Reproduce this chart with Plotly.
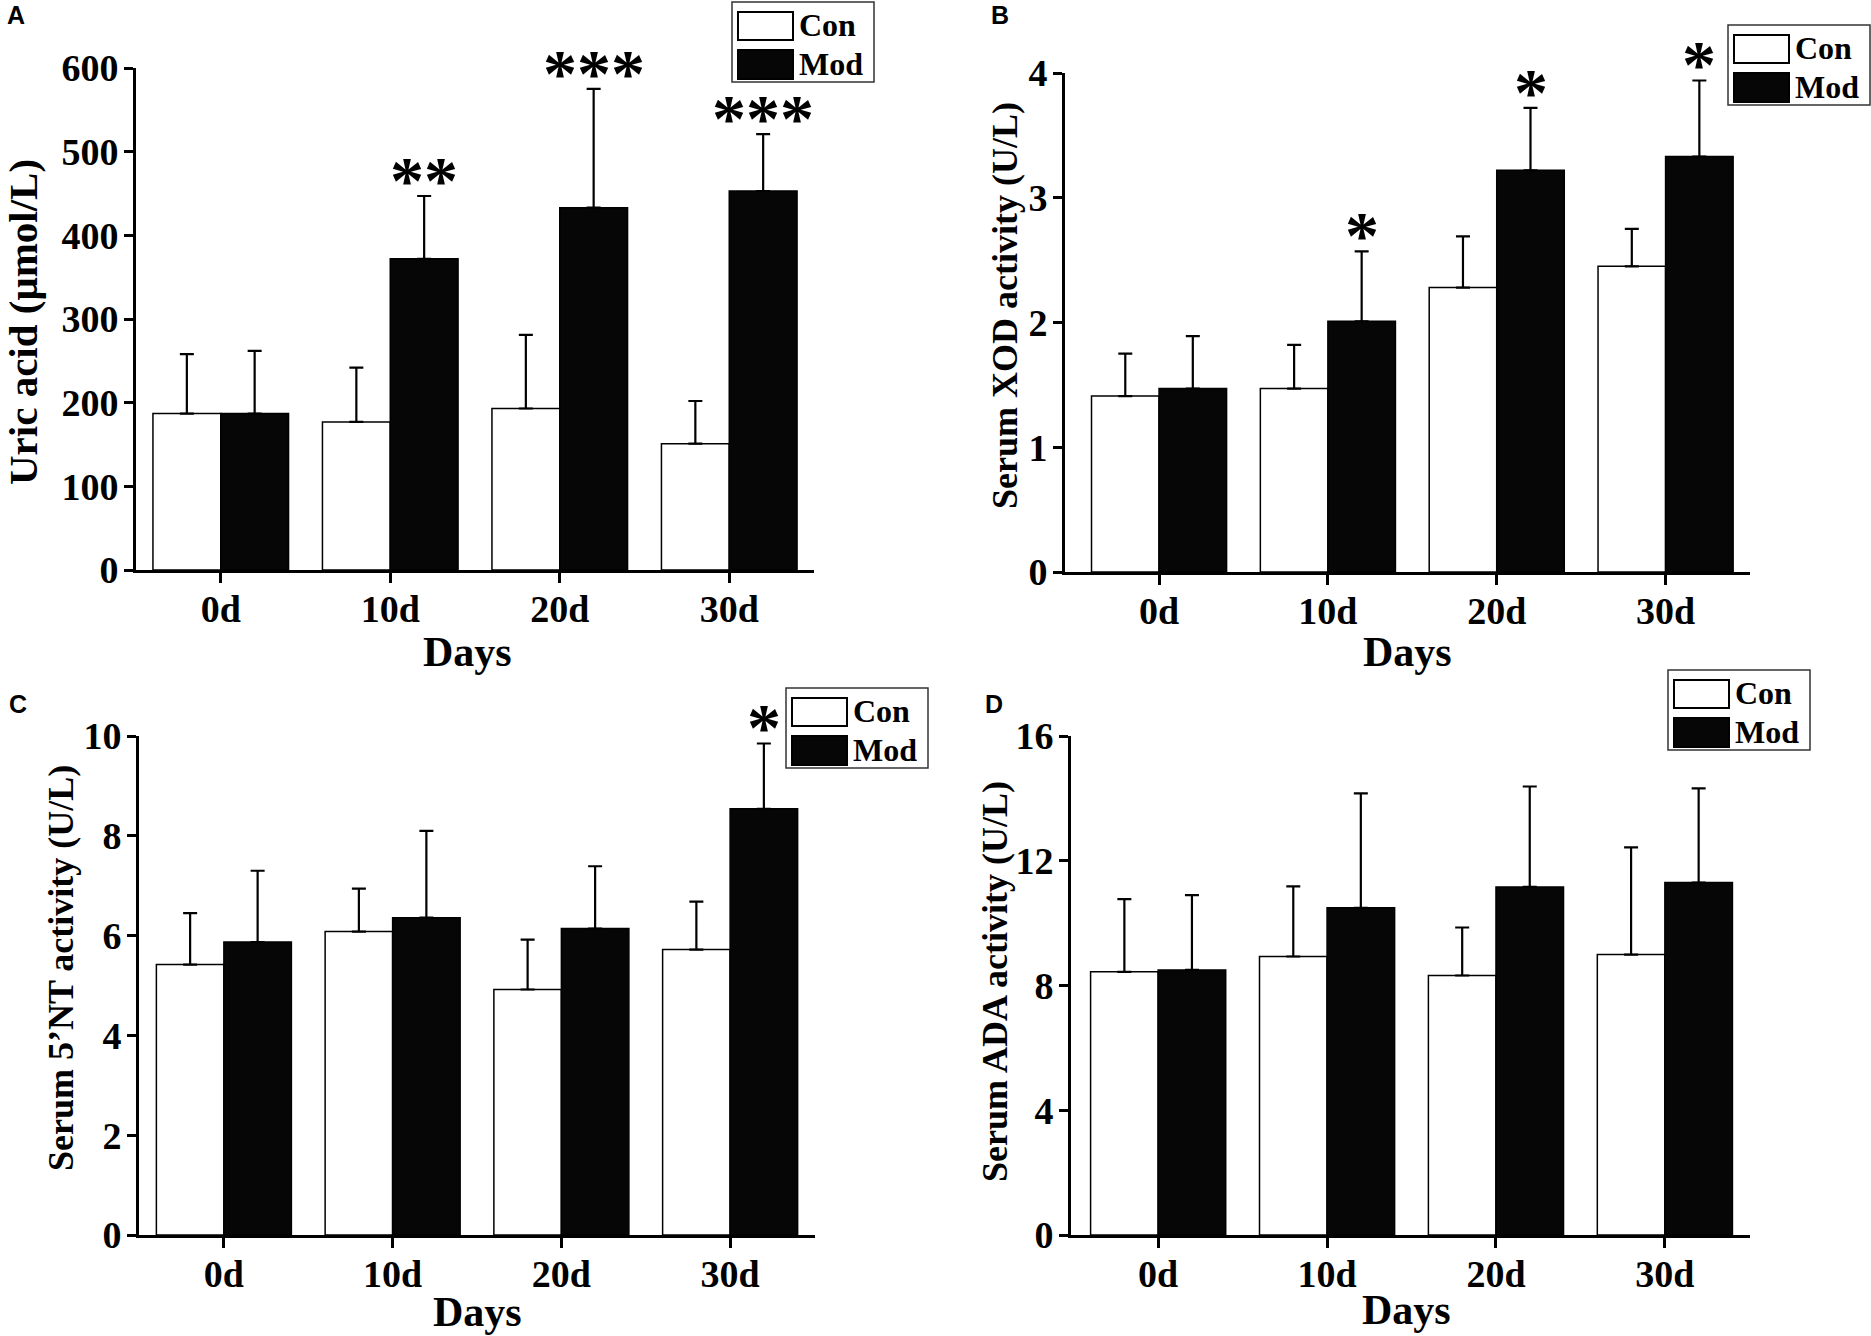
import plotly.graph_objects as go

W, H = 1871, 1336

days = ["0d", "10d", "20d", "30d"]
groups = ["Con", "Mod"]

# Panel A: Uric acid (umol/L)
a_con = [187, 177, 193, 151]
a_con_sd = [71, 65, 88, 51]
a_mod = [187, 372, 433, 453]
a_mod_sd = [75, 75, 142, 68]
a_sig = ["", "**", "***", "***"]

# Panel B: Serum XOD activity (U/L)
b_con = [1.41, 1.47, 2.28, 2.45]
b_con_sd = [0.34, 0.35, 0.41, 0.30]
b_mod = [1.47, 2.01, 3.22, 3.33]
b_mod_sd = [0.42, 0.56, 0.50, 0.61]
b_sig = ["", "*", "*", "*"]

# Panel C: Serum 5'NT activity (U/L)
c_con = [5.42, 6.08, 4.92, 5.72]
c_con_sd = [1.03, 0.86, 1.00, 0.96]
c_mod = [5.87, 6.36, 6.14, 8.54]
c_mod_sd = [1.43, 1.74, 1.25, 1.31]
c_sig = ["", "", "", "*"]

# Panel D: Serum ADA activity (U/L)
d_con = [8.44, 8.93, 8.32, 8.99]
d_con_sd = [2.33, 2.25, 1.54, 3.44]
d_mod = [8.50, 10.49, 11.16, 11.30]
d_mod_sd = [2.40, 3.67, 3.22, 3.02]
d_sig = ["", "", "", ""]

y_titles = ["Uric acid (μmol/L)", "Serum XOD activity (U/L)",
            "Serum 5’NT activity (U/L)", "Serum ADA activity (U/L)"]
panel_letters = ["A", "B", "C", "D"]
x_title = "Days"

SERIF = "Liberation Serif"
SANS = "Liberation Sans"


def px(x):
    return x / W


def py(y):
    return 1 - y / H


# layout geometry in pixels: (x0, x1, ytop, ybottom)
panels = [
    dict(box=(136, 814, 68, 570), xr=[-0.5, 3.5], yr=[0, 600], dtick=100,
         con=a_con, con_sd=a_con_sd, mod=a_mod, mod_sd=a_mod_sd, sig=a_sig,
         ytitle=(23, 322, 41), xtitle=(468, 652), letter=(16, 15),
         legend=(732, 2)),
    dict(box=(1065, 1750, 73, 572), xr=[-0.557, 3.5], yr=[0, 4], dtick=1,
         con=b_con, con_sd=b_con_sd, mod=b_mod, mod_sd=b_mod_sd, sig=b_sig,
         ytitle=(1005, 306, 36), xtitle=(1407, 652), letter=(1000, 15),
         legend=(1728, 25)),
    dict(box=(139, 815, 736, 1235), xr=[-0.503, 3.503], yr=[0, 10], dtick=2,
         con=c_con, con_sd=c_con_sd, mod=c_mod, mod_sd=c_mod_sd, sig=c_sig,
         ytitle=(61, 968, 36), xtitle=(477, 1312), letter=(18, 704),
         legend=(786, 688)),
    dict(box=(1071, 1750, 736, 1235), xr=[-0.516, 3.504], yr=[0, 16], dtick=4,
         con=d_con, con_sd=d_con_sd, mod=d_mod, mod_sd=d_mod_sd, sig=d_sig,
         ytitle=(995, 982, 36), xtitle=(1406, 1310), letter=(994, 704),
         legend=(1668, 670)),
]

fig = go.Figure()
annotations = []
shapes = []

for i, p in enumerate(panels):
    n = "" if i == 0 else str(i + 1)
    xa, ya = "x" + n, "y" + n
    x0, x1, yt, yb = p["box"]
    fig.add_trace(go.Bar(
        x=days, y=p["con"], name=groups[0], xaxis=xa, yaxis=ya,
        marker=dict(color="white", line=dict(color="black", width=1.5)),
        error_y=dict(type="data", array=p["con_sd"], arrayminus=[0] * 4,
                     symmetric=False, color="black", thickness=2.2, width=7),
        showlegend=False, offsetgroup="con"))
    fig.add_trace(go.Bar(
        x=days, y=p["mod"], name=groups[1], xaxis=xa, yaxis=ya,
        marker=dict(color="#060606", line=dict(color="black", width=1.5)),
        error_y=dict(type="data", array=p["mod_sd"], arrayminus=[0] * 4,
                     symmetric=False, color="black", thickness=2.2, width=7),
        showlegend=False, offsetgroup="mod"))

    axis_common = dict(showline=True, linecolor="black", linewidth=2.6,
                       ticks="outside", tickcolor="black", tickwidth=2.6,
                       showgrid=False, zeroline=False, automargin=False,
                       tickfont=dict(family=SERIF, size=38, color="black",
                                     weight="bold"))
    fig.layout["xaxis" + n] = dict(
        axis_common, domain=[px(x0), px(x1)], anchor=ya, range=p["xr"],
        ticklen=10, ticklabelstandoff=-6, type="category",
        categoryorder="array", categoryarray=days)
    fig.layout["yaxis" + n] = dict(
        axis_common, domain=[py(yb), py(yt)], anchor=xa, range=p["yr"],
        dtick=p["dtick"], tick0=0, ticklen=9, ticklabelstandoff=-2)

    # significance stars above Mod error bars
    for j, s in enumerate(p["sig"]):
        if s:
            annotations.append(dict(
                x=j + 0.2, y=p["mod"][j] + p["mod_sd"][j], xref=xa, yref=ya,
                text=s, showarrow=False, xanchor="center", yanchor="bottom",
                yshift=-24,
                font=dict(family=SERIF, size=68, color="black", weight="bold")))

    # axis titles
    tx, ty, tfs = p["ytitle"]
    annotations.append(dict(x=px(tx), y=py(ty), xref="paper", yref="paper",
                            xanchor="center", yanchor="middle",
                            text=y_titles[i], textangle=-90, showarrow=False,
                            font=dict(family=SERIF, size=tfs, color="black",
                                      weight="bold")))
    dx, dy = p["xtitle"]
    annotations.append(dict(x=px(dx), y=py(dy), xref="paper", yref="paper",
                            xanchor="center", yanchor="middle",
                            text=x_title, showarrow=False,
                            font=dict(family=SERIF, size=42, color="black",
                                      weight="bold")))
    lx, ly = p["letter"]
    annotations.append(dict(x=px(lx), y=py(ly), xref="paper", yref="paper",
                            xanchor="center", yanchor="middle",
                            text=panel_letters[i], showarrow=False,
                            font=dict(family=SANS, size=25, color="black",
                                      weight="bold")))

    # legend box
    bx, by = p["legend"]
    shapes.append(dict(type="rect", xref="paper", yref="paper",
                       x0=px(bx), x1=px(bx + 142), y0=py(by), y1=py(by + 80),
                       line=dict(color="#333333", width=1.5),
                       fillcolor="white"))
    shapes.append(dict(type="rect", xref="paper", yref="paper",
                       x0=px(bx + 6), x1=px(bx + 61), y0=py(by + 10),
                       y1=py(by + 38), line=dict(color="black", width=2),
                       fillcolor="white"))
    shapes.append(dict(type="rect", xref="paper", yref="paper",
                       x0=px(bx + 6), x1=px(bx + 61), y0=py(by + 48),
                       y1=py(by + 77), line=dict(color="black", width=2),
                       fillcolor="#060606"))
    for k, g in enumerate(groups):
        annotations.append(dict(x=px(bx + 65), y=py(by + 23 + 39 * k),
                                xref="paper", yref="paper", text=g,
                                showarrow=False, xanchor="left",
                                yanchor="middle",
                                font=dict(family=SERIF, size=32, color="black",
                                          weight="bold")))

fig.update_layout(
    template="none",
    width=W, height=H, margin=dict(l=0, r=0, t=0, b=0, pad=0),
    paper_bgcolor="white", plot_bgcolor="white",
    barmode="group", bargap=0.2, bargroupgap=0, showlegend=False,
    annotations=annotations, shapes=shapes,
)

fig.write_html("out.html",
               config={"displayModeBar": False},
               post_script="document.body.style.margin='0';"
                           "document.body.style.overflow='hidden';")
